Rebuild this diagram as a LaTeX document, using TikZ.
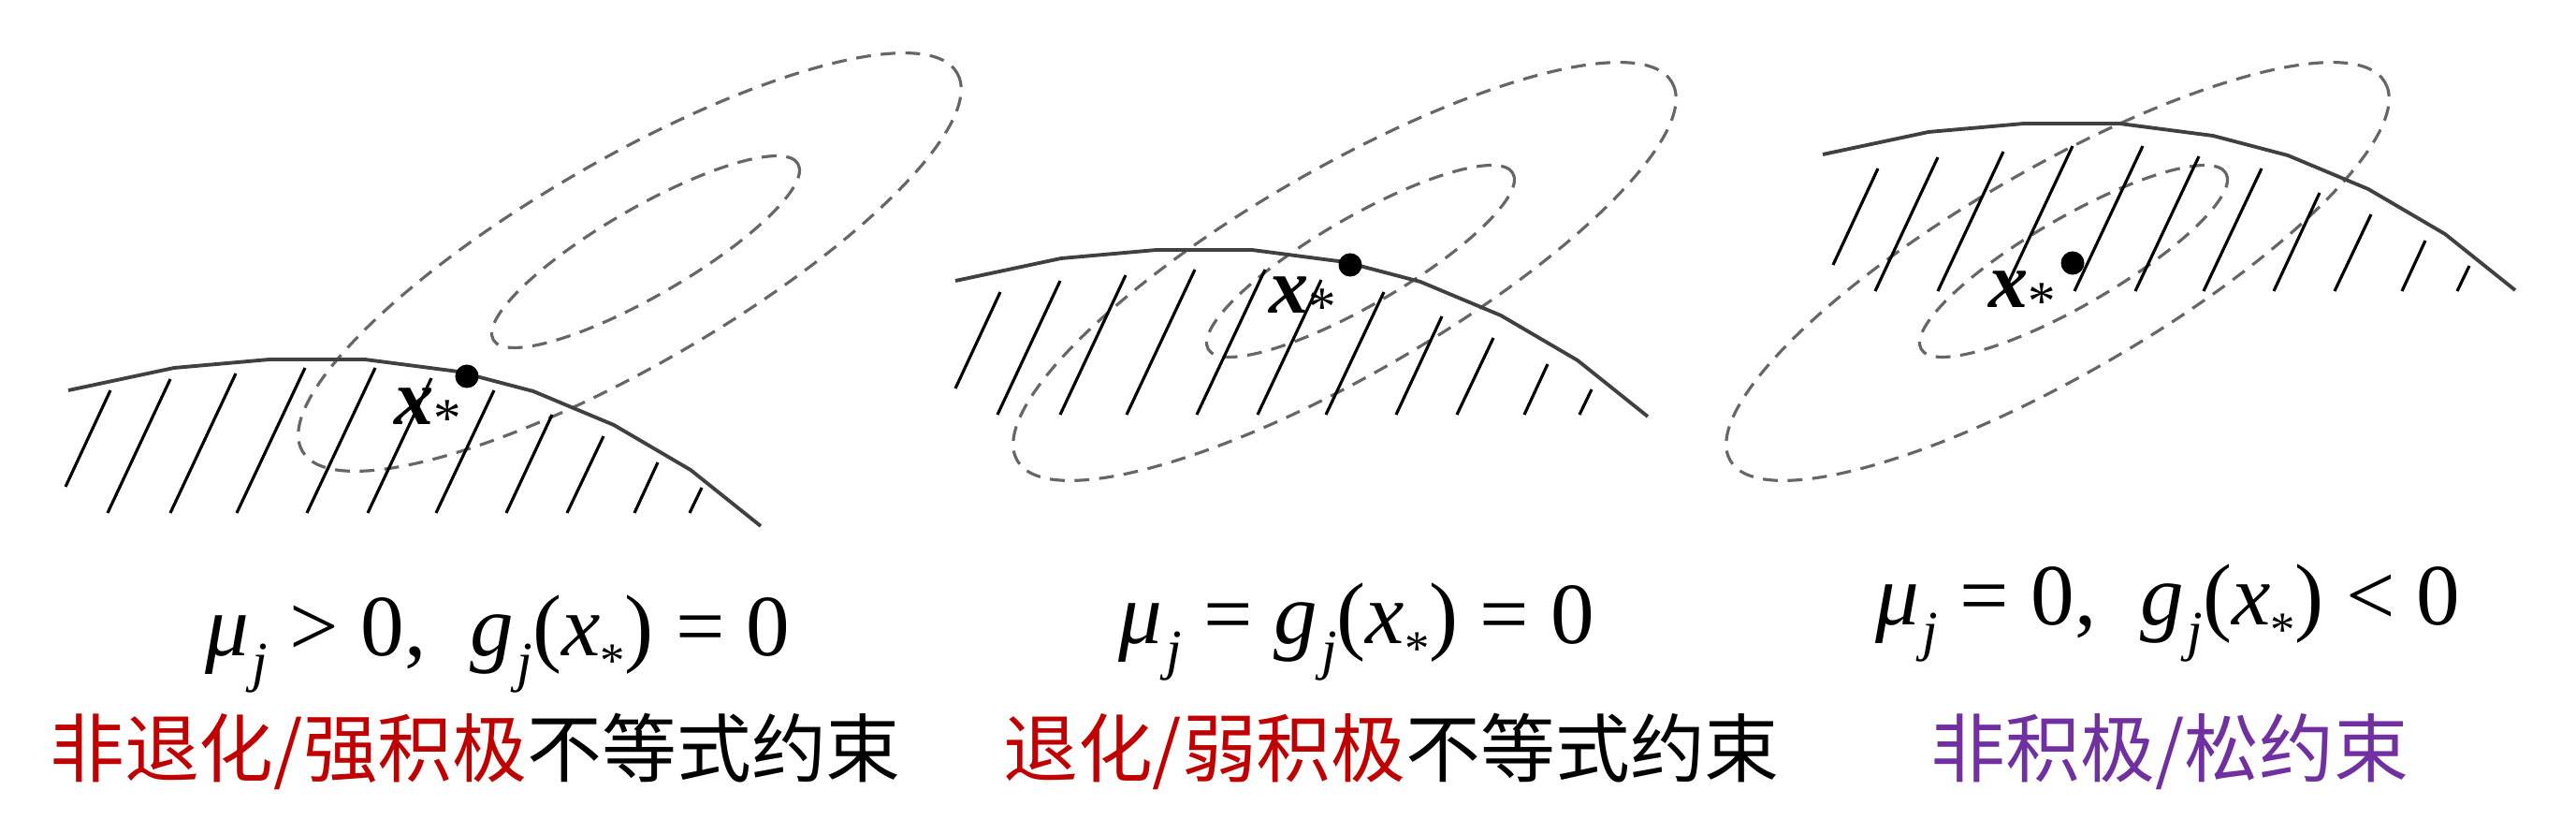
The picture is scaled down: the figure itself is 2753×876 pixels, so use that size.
\documentclass[tikz,border=0pt]{standalone}
\usepackage{fontspec}
\setmainfont{Liberation Serif}
\newfontfamily\cjk{Noto Sans CJK SC}
\definecolor{kktred}{RGB}{192,0,0}
\definecolor{kktpurple}{RGB}{112,48,160}
\newcommand{\sj}[1]{\kern0.04em\raisebox{-0.3em}{\fontsize{17}{17}\selectfont\textit{#1}}}
\newcommand{\sast}{\raisebox{-0.25em}{\fontsize{15}{15}\selectfont *}}

\begin{document}
\begin{tikzpicture}[
		x=0.01cm, y=-0.01cm,
		cons/.style={draw=black!75, line width=1.1pt, line join=round},
		hatch/.style={draw=black, line width=0.9pt},
		contour/.style={draw=black!60, line width=0.9pt, dash pattern=on 4.5pt off 3pt},
		opt/.style={circle, fill=black, inner sep=0pt, minimum size=0.25cm},
		xlab/.style={inner sep=0pt, font=\fontsize{24}{24}\selectfont\bfseries\itshape},
		fml/.style={inner sep=0pt, anchor=base, font=\fontsize{26.5}{30}\selectfont},
		note/.style={inner sep=0pt, font=\cjk\fontsize{22.7}{26}\selectfont}
		]
		\useasboundingbox (0,0) rectangle (2753,876);
		
		% contours of the objective
		\draw[contour, rotate around={30:(673,280)}] (673,280) ellipse [x radius=404, y radius=110];
		\draw[contour, rotate around={30:(690,269)}] (690,269) ellipse [x radius=188, y radius=47];
		\draw[contour, rotate around={30:(1437,290)}] (1437,290) ellipse [x radius=404, y radius=110];
		\draw[contour, rotate around={30:(1454,279)}] (1454,279) ellipse [x radius=188, y radius=47];
		\draw[contour, rotate around={30:(2199,290)}] (2199,290) ellipse [x radius=404, y radius=110];
		\draw[contour, rotate around={30:(2216,279)}] (2216,279) ellipse [x radius=188, y radius=47];
		
		% constraint boundary g_j(x)=0
		\draw[cons] (73,417) -- (186,393) -- (288,384) -- (390,384) -- (490,397) -- (570,418) -- (656,454) -- (738,502) -- (813,562);
		\draw[cons] (1021,300) -- (1134,276) -- (1236,267) -- (1338,267) -- (1438,280) -- (1518,301) -- (1604,337) -- (1686,385) -- (1761,445);
		\draw[cons] (1948,165) -- (2061,141) -- (2163,132) -- (2265,132) -- (2365,145) -- (2445,166) -- (2531,202) -- (2613,250) -- (2688,310);
		
		% feasible side
		\draw[hatch] (70,520) -- (118,417) (115,548) -- (182,405) (182,548) -- (252,399) (253,548) -- (326,393)
		(328,548) -- (401,393) (393,548) -- (461,404) (466,548) -- (528,417) (541,548) -- (590,443)
		(606,548) -- (645,466) (678,548) -- (703,494) (737,548) -- (750,521);
		\draw[hatch] (1021,415) -- (1069,312) (1066,443) -- (1133,300) (1133,443) -- (1203,294) (1204,443) -- (1277,288)
		(1279,443) -- (1352,288) (1344,443) -- (1412,299) (1417,443) -- (1479,312) (1492,443) -- (1541,338)
		(1557,443) -- (1596,361) (1629,443) -- (1654,389) (1688,443) -- (1701,416);
		\draw[hatch] (1959,283) -- (2007,180) (2004,311) -- (2071,168) (2071,311) -- (2141,162) (2142,311) -- (2215,156)
		(2217,311) -- (2290,156) (2282,311) -- (2350,167) (2355,311) -- (2417,180) (2430,311) -- (2479,206)
		(2495,311) -- (2534,229) (2567,311) -- (2592,257) (2626,311) -- (2639,284);
		
		% optimum
		\node[opt] (pa) at (499,402) {};
		\node[opt] (pb) at (1443,283) {};
		\node[opt] (pc) at (2215,281) {};
		\node[xlab] (la) at (458,441) {x\textsubscript{\normalfont *}};
		\node[xlab] (lb) at (1393,322) {x\textsubscript{\normalfont *}};
		\node[xlab] (lc) at (2162,316) {x\textsubscript{\normalfont *}};
		
		% conditions
		\node[fml] (fa) at (532,700) {\textit{μ}\sj{j} > 0,\ \ \textit{g}\sj{j}(\textit{x}\sast) = 0};
		\node[fml] (fb) at (1450,687) {\textit{μ}\sj{j} = \textit{g}\sj{j}(\textit{x}\sast) = 0};
		\node[fml] (fc) at (2317,667) {\textit{μ}\sj{j} = 0,\ \ \textit{g}\sj{j}(\textit{x}\sast) < 0};
		\node[note] (na) at (508,803) {\textcolor{kktred}{非退化/强积极}不等式约束};
		\node[note] (nb) at (1487,803) {\textcolor{kktred}{退化/弱积极}不等式约束};
		\node[note, text=kktpurple] (nc) at (2319,803) {非积极/松约束};
	\end{tikzpicture}
\end{document}
